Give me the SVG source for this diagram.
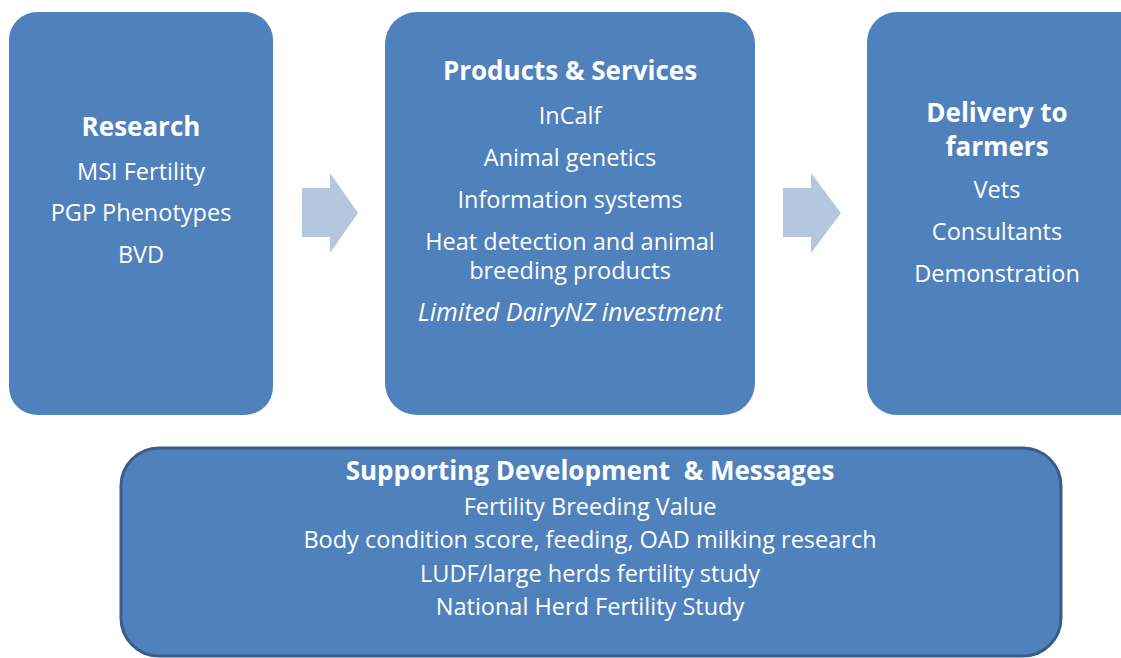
<svg xmlns="http://www.w3.org/2000/svg" width="1121" height="658" viewBox="0 0 1121 658">
<style>
.box{fill:#4F81BD}
.sup{fill:#4F81BD;stroke:#385D8A;stroke-width:3}
.arr{fill:#B5C7DE}
text{font-family:"Open Sans","Liberation Sans",sans-serif;fill:#fff;text-anchor:middle;font-size:23.5px}
.t{font-weight:bold;font-size:26px}
.i{font-style:italic;font-size:25px}
</style>
<rect width="1121" height="658" fill="#fff"/>
<g id="connectors">
<polygon class="arr" points="302,188 330,188 330,173 358,213 330,253 330,237 302,237"/>
<polygon class="arr" points="783,188 811,188 811,173 841,213 811,253 811,237 783,237"/>
</g>
<g id="research">
<rect class="box" x="9" y="12" width="264" height="403" rx="28"/>
<text class="t" x="141" y="136">Research</text>
<text x="141" y="180">MSI Fertility</text>
<text x="141" y="221">PGP Phenotypes</text>
<text x="141" y="263">BVD</text>
</g>
<g id="products">
<rect class="box" x="385" y="12" width="370" height="403" rx="32"/>
<text class="t" x="570" y="80">Products &amp; Services</text>
<text x="570" y="124">InCalf</text>
<text x="570" y="166">Animal genetics</text>
<text x="570" y="208">Information systems</text>
<text x="570" y="250">Heat detection and animal</text>
<text x="570" y="279">breeding products</text>
<text class="i" x="570" y="321">Limited DairyNZ investment</text>
</g>
<g id="delivery">
<rect class="box" x="867" y="12" width="290" height="403" rx="30"/>
<text class="t" x="997" y="122">Delivery to</text>
<text class="t" x="997" y="156">farmers</text>
<text x="997" y="198">Vets</text>
<text x="997" y="240">Consultants</text>
<text x="997" y="282">Demonstration</text>
</g>
<g id="supporting">
<rect class="sup" x="121" y="448" width="940" height="208" rx="38"/>
<text class="t" x="590" y="480" xml:space="preserve">Supporting Development  &amp; Messages</text>
<text x="590" y="515">Fertility Breeding Value</text>
<text x="590" y="548">Body condition score, feeding, OAD milking research</text>
<text x="590" y="582">LUDF/large herds fertility study</text>
<text x="590" y="615">National Herd Fertility Study</text>
</g>
</svg>
